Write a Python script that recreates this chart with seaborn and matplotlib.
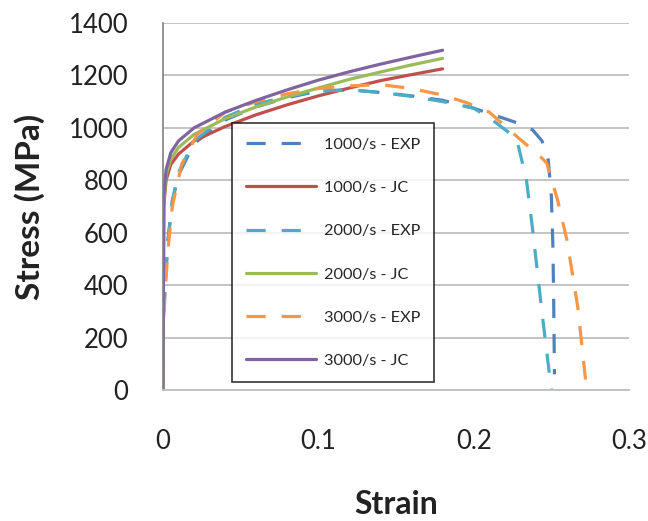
import matplotlib
matplotlib.use('Agg')
import matplotlib.pyplot as plt
import seaborn as sns
import pandas as pd

# JC model curves (strain, stress in MPa)
jc_strain = [0.0, 0.0005, 0.002, 0.005, 0.01, 0.02, 0.04, 0.06, 0.08, 0.1, 0.12, 0.14, 0.16, 0.18]
jc_1000 = [0, 700, 800, 860, 900, 950, 1005, 1050, 1088, 1122, 1152, 1180, 1203, 1225]
jc_2000 = [0, 720, 820, 880, 925, 975, 1035, 1080, 1118, 1152, 1185, 1213, 1240, 1265]
jc_3000 = [0, 740, 840, 905, 950, 1000, 1060, 1105, 1145, 1182, 1214, 1243, 1270, 1296]

# Experimental curves
exp1000_strain = [0.0005, 0.003, 0.006, 0.01, 0.02, 0.04, 0.06, 0.08, 0.1, 0.12, 0.14, 0.16,
                  0.18, 0.2, 0.215, 0.23, 0.238, 0.244, 0.248, 0.25, 0.251, 0.2515, 0.252]
exp1000_stress = [300, 560, 720, 820, 940, 1030, 1080, 1115, 1140, 1145, 1135, 1122,
                  1105, 1075, 1045, 1015, 992, 950, 878, 740, 550, 350, 60]

exp2000_strain = [0.0005, 0.003, 0.006, 0.01, 0.02, 0.04, 0.06, 0.08, 0.1, 0.12, 0.14, 0.16,
                  0.18, 0.2, 0.212, 0.222, 0.228, 0.234, 0.238, 0.244, 0.25]
exp2000_stress = [300, 560, 720, 830, 950, 1040, 1090, 1120, 1140, 1145, 1135, 1120,
                  1100, 1075, 1030, 985, 950, 800, 610, 295, 0]

exp3000_strain = [0.0005, 0.003, 0.006, 0.012, 0.022, 0.04, 0.06, 0.08, 0.1, 0.12, 0.14, 0.16,
                  0.18, 0.196, 0.21, 0.228, 0.243, 0.247, 0.254, 0.26, 0.267, 0.272]
exp3000_stress = [280, 520, 700, 860, 975, 1060, 1100, 1130, 1150, 1160, 1165, 1150,
                  1125, 1095, 1060, 966, 890, 866, 725, 573, 317, 40]

labels = ['1000/s - EXP', '1000/s - JC', '2000/s - EXP', '2000/s - JC', '3000/s - EXP', '3000/s - JC']
colors = ['#4F81BD', '#C0504D', '#4BACC6', '#9BBB59', '#F79646', '#8064A2']

series = [
    (exp1000_strain, exp1000_stress),
    (jc_strain, jc_1000),
    (exp2000_strain, exp2000_stress),
    (jc_strain, jc_2000),
    (exp3000_strain, exp3000_stress),
    (jc_strain, jc_3000),
]

frames = []
for lab, (xs, ys) in zip(labels, series):
    frames.append(pd.DataFrame({'Strain': xs, 'Stress': ys, 'series': lab}))
df = pd.concat(frames, ignore_index=True)

sns.set_style('white')
plt.rcParams['font.family'] = ['Lato', 'DejaVu Sans']

fig, ax = plt.subplots(figsize=(6.48, 5.21), dpi=100)
fig.subplots_adjust(left=0.2515, right=0.9707, top=0.9559, bottom=0.2514)

dash_map = {lab: ((6, 5) if 'EXP' in lab else '') for lab in labels}
sns.lineplot(data=df, x='Strain', y='Stress', hue='series', style='series',
             hue_order=labels, style_order=labels, palette=dict(zip(labels, colors)),
             dashes=dash_map, estimator=None, sort=False, linewidth=2.3, ax=ax)

ax.set_xlim(0, 0.3)
ax.set_ylim(0, 1400)
ax.set_xticks([0, 0.1, 0.2, 0.3])
ax.set_xticklabels(['0', '0.1', '0.2', '0.3'])
ax.set_yticks(range(0, 1401, 200))

ax.yaxis.grid(True, color='#BFBFBF', linewidth=1.3)
ax.set_axisbelow(True)
for s in ['top', 'right']:
    ax.spines[s].set_visible(False)
ax.spines['left'].set_color('#808080')
ax.spines['bottom'].set_color('#BFBFBF')
ax.spines['left'].set_linewidth(1.2)
ax.spines['bottom'].set_linewidth(1.3)

ax.tick_params(axis='y', direction='out', length=7, color='#BFBFBF', width=1.2,
               labelsize=18.5, pad=18, labelcolor='#222222')
ax.tick_params(axis='x', direction='inout', length=14, color='#A0A0A0', width=1.0,
               labelsize=18.5, pad=21, labelcolor='#222222')

ax.set_xlabel('Strain', fontsize=23, fontweight='bold', labelpad=26, color='#222222')
ax.set_ylabel('Stress (MPa)', fontsize=24, fontweight='bold', labelpad=17, color='#222222')

handles, labs = ax.get_legend_handles_labels()
leg = ax.legend(handles, labs, loc='lower left', bbox_to_anchor=(0.148, 0.022),
                borderaxespad=0, fontsize=11.7, labelspacing=1.78, handlelength=4.3,
                handletextpad=0.5, fancybox=False, frameon=True, borderpad=0.85)
leg.get_frame().set_edgecolor('black')
leg.get_frame().set_linewidth(1.2)

plt.savefig('out.png', dpi=100)
